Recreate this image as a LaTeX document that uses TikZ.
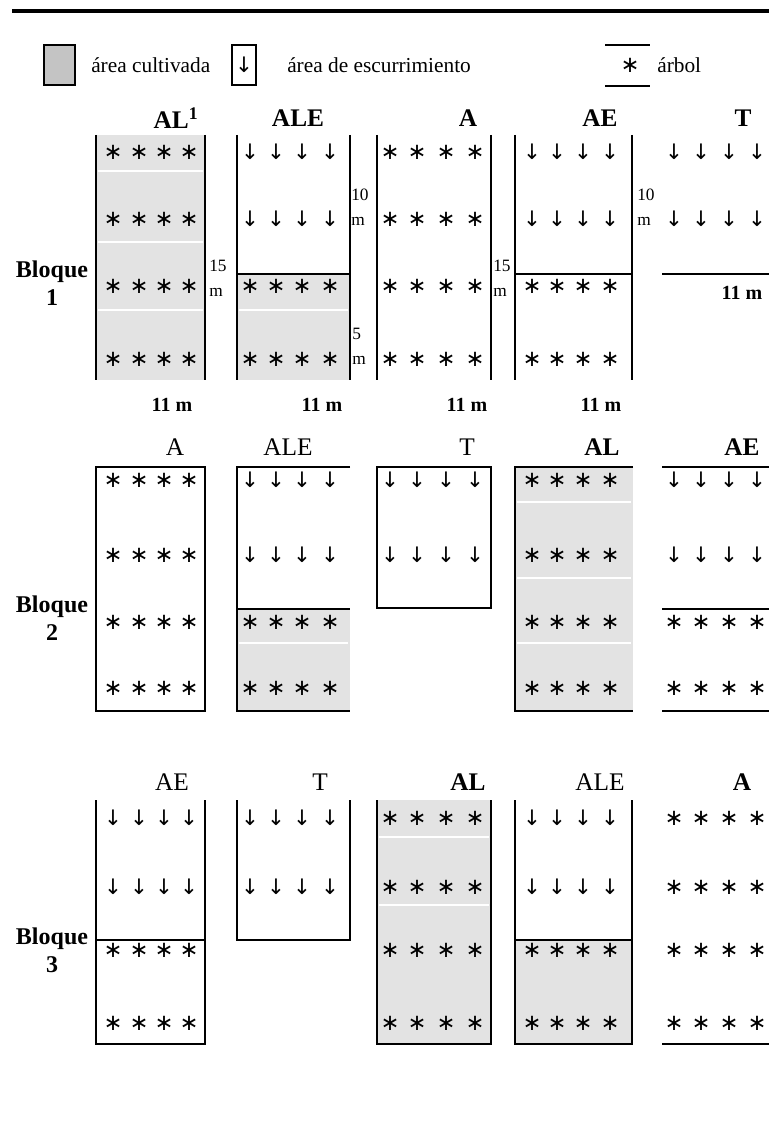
\documentclass[tikz,border=0pt]{standalone}
\usepackage{fontspec}
\setmainfont{Liberation Serif}
\newfontfamily\symfont{DejaVu Sans}
\definecolor{cultgray}{HTML}{E3E3E3}
\definecolor{leygray}{HTML}{C4C4C4}
\tikzset{
  lim/.style={line width=1.6pt},
  cult/.style={fill=cultgray},
  sep/.style={white, line width=1.5pt},
  arbol/.style={font=\symfont\fontsize{17}{17}\selectfont, inner sep=0pt},
  flecha/.style={font=\symfont\fontsize{16}{16}\selectfont, inner sep=0pt},
  hdr/.style={font=\fontsize{19}{22}\selectfont, inner sep=0pt},
  hdrb/.style={font=\bfseries\fontsize{19}{22}\selectfont, inner sep=0pt},
  bloque/.style={font=\bfseries\fontsize{18}{21}\selectfont, align=center, inner sep=0pt},
  dim/.style={font=\fontsize{13}{19}\selectfont, align=left, anchor=west, inner sep=0pt},
  ancho/.style={font=\bfseries\fontsize{15}{18}\selectfont, inner sep=0pt},
  leyenda/.style={font=\fontsize{16}{19}\selectfont, anchor=west, inner sep=0pt}
}
\newcommand{\filaarb}[2]{\foreach \xa in #1 \node[arbol] (arb-\xa-#2) at (\xa,#2) {∗};}
\newcommand{\filaflec}[2]{\foreach \xa in #1 \node[flecha] (flec-\xa-#2) at (\xa,#2) {↓};}
\begin{document}
\begin{tikzpicture}[x=0.75pt,y=-0.75pt]
\useasboundingbox (0,0) rectangle (769,1126);
\def\ca{113,139,164,189}
\def\cb{250,276,302,330}
\def\cc{390,417,446,475}
\def\cd{532,557,583,610}
\def\ce{674,701,729,757}
\draw[line width=2.4pt] (12,11) -- (769,11);
% leyenda
\draw[lim, fill=leygray] (44,45) rectangle (75,85);
\node[leyenda] (ley-cult) at (91,65) {área cultivada};
\draw[lim] (232,45) rectangle (256,85);
\node[flecha] (ley-flec) at (244,65) {↓};
\node[leyenda] (ley-esc) at (287,65) {área de escurrimiento};
\draw[lim] (605,45) -- (650,45) (605,86) -- (650,86);
\node[arbol] (ley-arb) at (630,65) {∗};
\node[leyenda] (ley-arbol) at (657,65) {árbol};
% bloque 1
\node[hdrb] (h11) at (176,118) {AL\textsuperscript{1}};
\node[hdrb] (h12) at (298,118) {ALE};
\node[hdrb] (h13) at (468,118) {A};
\node[hdrb] (h14) at (600,118) {AE};
\node[hdrb] (h15) at (743,118) {T};
\node[bloque] (b1) at (52,283) {Bloque\\1};
\fill[cult] (96,135) rectangle (205,380);
\draw[sep] (98,171) -- (203,171) (98,242) -- (203,242) (98,310) -- (203,310);
\draw[lim] (96,135) -- (96,380) (205,135) -- (205,380);
\fill[cult] (237,274) rectangle (350,380);
\draw[sep] (239,310) -- (348,310);
\draw[lim] (237,135) -- (237,380) (350,135) -- (350,380) (237,274) -- (350,274);
\draw[lim] (377,135) -- (377,380) (491,135) -- (491,380);
\draw[lim] (515,135) -- (515,380) (632,135) -- (632,380) (515,274) -- (632,274);
\draw[lim] (662,274) -- (769,274);
\filaarb{\ca}{152} \filaarb{\ca}{219} \filaarb{\ca}{286} \filaarb{\ca}{359}
\filaflec{\cb}{152} \filaflec{\cb}{219} \filaarb{\cb}{286} \filaarb{\cb}{359}
\filaarb{\cc}{152} \filaarb{\cc}{219} \filaarb{\cc}{286} \filaarb{\cc}{359}
\filaflec{\cd}{152} \filaflec{\cd}{219} \filaarb{\cd}{286} \filaarb{\cd}{359}
\filaflec{\ce}{152} \filaflec{\ce}{219}
\node[dim] (d15a) at (209,278) {15\\m};
\node[dim] (d10a) at (351,207) {10\\m};
\node[dim] (d5a) at (352,346) {5\\m};
\node[dim] (d15b) at (493,278) {15\\m};
\node[dim] (d10b) at (637,207) {10\\m};
\node[ancho] (w15) at (742,293) {11 m};
\node[ancho] (w11) at (172,405) {11 m};
\node[ancho] (w12) at (322,405) {11 m};
\node[ancho] (w13) at (467,405) {11 m};
\node[ancho] (w14) at (601,405) {11 m};
% bloque 2
\node[hdr] (h21) at (175,447) {A};
\node[hdr] (h22) at (288,447) {ALE};
\node[hdr] (h23) at (467,447) {T};
\node[hdrb] (h24) at (602,447) {AL};
\node[hdrb] (h25) at (742,447) {AE};
\node[bloque] (b2) at (52,618) {Bloque\\2};
\draw[lim] (96,467) rectangle (205,711);
\fill[cult] (237,609) rectangle (350,711);
\draw[sep] (239,643) -- (348,643);
\draw[lim] (350,467) -- (237,467) -- (237,711) -- (350,711) (237,609) -- (350,609);
\draw[lim] (377,467) rectangle (491,608);
\fill[cult] (515,467) rectangle (633,711);
\draw[sep] (517,502) -- (631,502) (517,578) -- (631,578) (517,643) -- (631,643);
\draw[lim] (633,467) -- (515,467) -- (515,711) -- (633,711);
\draw[lim] (662,467) -- (769,467) (662,609) -- (769,609) (662,711) -- (769,711);
\filaarb{\ca}{480} \filaarb{\ca}{555} \filaarb{\ca}{622} \filaarb{\ca}{688}
\filaflec{\cb}{480} \filaflec{\cb}{555} \filaarb{\cb}{622} \filaarb{\cb}{688}
\filaflec{\cc}{480} \filaflec{\cc}{555}
\filaarb{\cd}{480} \filaarb{\cd}{555} \filaarb{\cd}{622} \filaarb{\cd}{688}
\filaflec{\ce}{480} \filaflec{\ce}{555} \filaarb{\ce}{622} \filaarb{\ce}{688}
% bloque 3
\node[hdr] (h31) at (172,782) {AE};
\node[hdr] (h32) at (320,782) {T};
\node[hdrb] (h33) at (468,782) {AL};
\node[hdr] (h34) at (600,782) {ALE};
\node[hdrb] (h35) at (742,782) {A};
\node[bloque] (b3) at (52,950) {Bloque\\3};
\draw[lim] (96,800) -- (96,1044) -- (205,1044) -- (205,800) (96,940) -- (205,940);
\draw[lim] (237,800) -- (237,940) -- (350,940) -- (350,800);
\fill[cult] (377,800) rectangle (491,1044);
\draw[sep] (379,837) -- (489,837) (379,905) -- (489,905);
\draw[lim] (377,800) -- (377,1044) -- (491,1044) -- (491,800);
\fill[cult] (515,940) rectangle (632,1044);
\draw[lim] (515,800) -- (515,1044) -- (632,1044) -- (632,800) (515,940) -- (632,940);
\draw[lim] (662,1044) -- (769,1044);
\filaflec{\ca}{818} \filaflec{\ca}{887} \filaarb{\ca}{950} \filaarb{\ca}{1023}
\filaflec{\cb}{818} \filaflec{\cb}{887}
\filaarb{\cc}{818} \filaarb{\cc}{887} \filaarb{\cc}{950} \filaarb{\cc}{1023}
\filaflec{\cd}{818} \filaflec{\cd}{887} \filaarb{\cd}{950} \filaarb{\cd}{1023}
\filaarb{\ce}{818} \filaarb{\ce}{887} \filaarb{\ce}{950} \filaarb{\ce}{1023}
\end{tikzpicture}
\end{document}
